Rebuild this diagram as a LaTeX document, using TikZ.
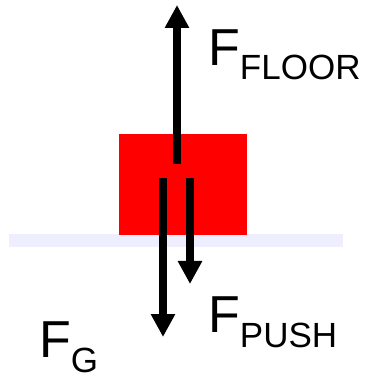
\documentclass[tikz,border=0pt]{standalone}
\usepackage{fontspec}
\setmainfont{Liberation Sans}
\usetikzlibrary{arrows.meta}
\definecolor{bodenfarbe}{HTML}{EEEEFF}
\newcommand{\kraft}[1]{F\raisebox{-14pt}{\fontsize{35}{35}\selectfont #1}}
\tikzset{
  kraftpfeil/.style={line width=8pt, -{Triangle[width=23pt,length=23pt]}},
  kraftlabel/.style={anchor=base west, inner sep=0pt, font=\fontsize{52}{52}\selectfont}
}
\begin{document}
\begin{tikzpicture}[x=10pt,y=10pt]
		\useasboundingbox (0,0) rectangle (36.6,37.6);
		
		% Boden und Klotz
		\fill[bodenfarbe] (0.9,12.9) rectangle (34.3,14.2);
		\fill[red] (11.9,14.1) rectangle (24.7,24.2);
		
		% Kraftpfeile
		\coordinate (floorstart) at (17.7,21.2);
		\coordinate (floorende) at (17.7,37.1);
		\coordinate (gstart) at (16.3,19.8);
		\coordinate (gende) at (16.3,3.9);
		\coordinate (pushstart) at (19.0,19.8);
		\coordinate (pushende) at (19.0,9.2);
		\draw[kraftpfeil] (floorstart) -- (floorende);
		\draw[kraftpfeil] (gstart) -- (gende);
		\draw[kraftpfeil] (pushstart) -- (pushende);
		
		% Beschriftungen
		\node[kraftlabel] (floorlabel) at (20.8,31.1) {\kraft{FLOOR}};
		\node[kraftlabel] (pushlabel) at (20.8,4.3) {\kraft{PUSH}};
		\node[kraftlabel] (glabel) at (3.9,1.8) {\kraft{G}};
	\end{tikzpicture}
\end{document}
